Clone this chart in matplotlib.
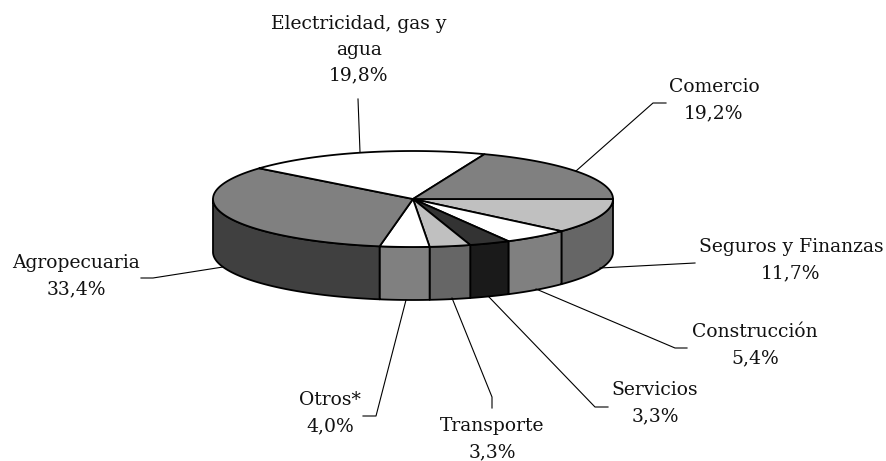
import numpy as np
import matplotlib
matplotlib.use("Agg")
import matplotlib.pyplot as plt
from matplotlib.patches import Polygon

names = ['Seguros y Finanzas', 'Construcción', 'Servicios', 'Transporte', 'Otros*',
         'Agropecuaria', 'Electricidad, gas y\nagua', 'Comercio']
values = [11.7, 5.4, 3.3, 3.3, 4.0, 33.4, 19.8, 19.2]
value_labels = ['11,7%', '5,4%', '3,3%', '3,3%', '4,0%', '33,4%', '19,8%', '19,2%']
top_colors = ['#c0c0c0', '#ffffff', '#333333', '#c0c0c0', '#ffffff', '#808080', '#ffffff', '#808080']
side_colors = ['#666666', '#808080', '#1a1a1a', '#666666', '#808080', '#404040', None, None]

# pie geometry, in pixels of the picture
cx, cy = 413, 199
rx, ry = 200, 48
depth = 53

label_pos = [(791, 260), (755, 345), (655, 403), (492, 439), (330, 413), (76, 276), (359, 50), (714, 100)]
leaders = [
    [(600, 268), (695, 263)],
    [(536, 289), (675, 348), (687, 348)],
    [(489, 297), (595, 407), (608, 407)],
    [(452, 298), (492, 397), (492, 408)],
    [(406, 300), (376, 416), (363, 416)],
    [(223, 267), (153, 278), (141, 278)],
    [(358, 99), (360, 152)],
    [(576, 171), (653, 103), (666, 103)],
]

fig = plt.figure(figsize=(8.87, 4.61), dpi=100)
ax = fig.add_axes([0, 0, 1, 1])
ax.set_xlim(0, 887)
ax.set_ylim(461, 0)
ax.axis('off')


def rim(a0, a1, dy=0):
    t = np.radians(np.linspace(a0, a1, 80))
    return np.column_stack([cx + rx * np.cos(t), cy + ry * np.sin(t) + dy])


bounds = np.concatenate([[0], np.cumsum(values)]) / sum(values) * 360

# side walls first, only the front half (0-180 deg, y points down) is visible
for i, col in enumerate(side_colors):
    if col is None:
        continue
    a0, a1 = bounds[i], min(bounds[i + 1], 180)
    if a0 >= 180:
        continue
    pts = np.vstack([rim(a0, a1), rim(a1, a0, depth)])
    ax.add_patch(Polygon(pts, closed=True, fc=col, ec='black', lw=1.3, joinstyle='round'))

for i, col in enumerate(top_colors):
    pts = np.vstack([[(cx, cy)], rim(bounds[i], bounds[i + 1])])
    ax.add_patch(Polygon(pts, closed=True, fc=col, ec='black', lw=1.3, joinstyle='round'))

for pts in leaders:
    xs, ys = zip(*pts)
    ax.plot(xs, ys, color='black', lw=0.8, zorder=1)

for name, val, (x, y) in zip(names, value_labels, label_pos):
    ax.text(x, y, name + '\n' + val, ha='center', va='center', family='DejaVu Serif',
            fontsize=13.5, linespacing=1.56, color='#111111')

fig.savefig('out.png', dpi=100)
